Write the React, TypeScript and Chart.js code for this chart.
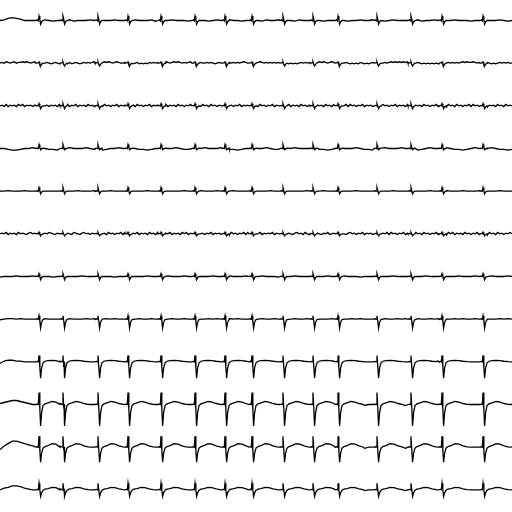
import React, { useEffect, useRef } from "react";
import { Chart, registerables } from "chart.js";

Chart.register(...registerables);

// 12 leads, top to bottom
const LEADS = ["I", "II", "III", "aVR", "aVL", "aVF", "V1", "V2", "V3", "V4", "V5", "V6"];

// R-peak times (ms) over a 10 s strip
const BEAT_TIMES_MS = [762, 1230, 1914, 2500, 3145, 3809, 4395, 4922, 5527, 6113, 6602, 7363, 8027, 8633, 9434];

// beat template sample offsets relative to the R peak (ms)
const TEMPLATE_DT_MS = [-59, -29, -14, 0, 16, 31, 51, 78, 117, 176, 254, 332, 410, 488];

// beat template amplitudes (mV) per lead
const TPL_I = [0, 0.03, -0.02, 0.22, 0.05, -0.18, -0.06, 0];
const TPL_II = [0, 0.02, 0.03, 0.06, -0.08, -0.14, -0.05, 0];
const TPL_III = [0, 0.02, 0, 0.11, -0.02, -0.14, -0.04, 0];
const TPL_AVR = [0, 0.02, 0, 0.2, 0.06, -0.06, -0.02, 0.02];
const TPL_AVL = [0, 0.02, 0, 0.18, 0.02, -0.13, -0.04, 0];
const TPL_AVF = [0, 0.02, 0, 0.08, -0.02, -0.1, -0.03, 0];
const TPL_V1 = [0, 0.02, 0, 0.14, 0, -0.16, -0.05, 0];
const TPL_V2 = [0, 0.02, 0, 0.17, -0.1, -0.45, -0.15, -0.02];
const TPL_V3 = [0, 0.02, 0, 0.32, -0.25, -0.82, -0.3, -0.05, 0.03, 0.06, 0.07, 0.06, 0.03, 0.01];
const TPL_V4 = [0, 0.02, 0, 0.6, -0.2, -1.07, -0.4, -0.05, 0.03, 0.08, 0.15, 0.12, 0.05, 0.01];
const TPL_V5 = [0, 0.02, 0, 0.55, -0.15, -0.75, -0.3, -0.05, 0.03, 0.08, 0.17, 0.15, 0.06, 0.01];
const TPL_V6 = [0, 0.02, 0, 0.33, 0, -0.33, -0.15, -0.02, 0.03, 0.06, 0.12, 0.11, 0.05, 0.01];

// baseline samples, digit d -> (d - 4) * scale mV
const BASE_STEP_MS = [80, 40, 40, 80, 80, 40, 80, 80, 80, 80, 80, 80];
const BASE_I = "4578764444 4543444534 4454344454 4345444534 4454443454 4345445443 4544354454 4435444543 4454434454 4544345444 4453445434 4544434454 445434";
const BASE_II = "4546545645 5656545654 4545434543 4343534543 4545456565 5656545654 4543434534 3435454545 5654565654 5456545454 4545434543 4354545456 5456565654 5454545434 4343434545 4545456565 4565454545 4343435434 3454545454 5656565656 5454543434 3434354545 4545456565 5654545454 3434545454 4";
const BASE_III = "4536354536 4635453546 3645354536 4536354635 4536453546 3645354635 4536453645 3546354536 4635453645 3546354536 4536453546 3645354635 4536453645 3546354536 4635453645 3546354536 4536453546 3645354635 4536453645 3546354536 4635453645 3546354536 4536453546 3645354635 4536453645 4";
const BASE_AVR = "4432234454 4433234544 4543323445 4454332345 4445433234 5444543323 4544454332 3454445433 2345444543 3234544454 3323454445 4332345444 543323";
const BASE_AVL = "4454445444 5444454445 4445444544 4454445444 5444454445 4445444544 4454445444 5444454445 4445444544 4454445444 5444454445 4445444544 445444";
const BASE_AVF = "4546354536 4543564536 4354654354 6345436543 5645354635 4536453546 3645354635 4536453645 3546354536 4635453645 3546354536 4536453546 3645354635 4546354536 4543564536 4354654354 6345436543 5645354635 4536453546 3645354635 4536453645 3546354536 4635453645 3546354536 4536453546 4";
const BASE_V1 = "3444544454 4443445444 5444544434 4454445444 4544454434 4454445444 5444544434 4454445444 5444544434 4454445444 5444544434 4454445444 544454";
const BASE_V2 = "3455454445 4544454544 4545445454 4454544545 4454454544 4545445454 4454544545 4454454544 4545445454 4454544545 4454454544 4545445454 445454";
const BASE_V3 = "2566554444 4443444454 4444434444 4544444344 4444454444 4344444544 4443444445 4444434444 4544444344 4444454444 4344444544 4443444445 444444";
const BASE_V4 = "5678876544 4444444443 4444444443 4444444443 4444444443 4444444443 4444444443 4444444443 4444444443 4444444443 4444444443 4444444443 444444";
const BASE_V5 = "2579987654 4444444443 4444444443 4444444443 4444444443 4444444443 4444444443 4444444443 4444444443 4444444443 4444444443 4444444443 444444";
const BASE_V6 = "4679986544 4444444443 4444444443 4444444443 4444444443 4444444443 4444444443 4444444443 4444444443 4444444443 4444444443 4444444443 444444";

const BASE_SCALE_MV = [0.035, 0.035, 0.035, 0.04, 0.03, 0.035, 0.03, 0.03, 0.04, 0.05, 0.06, 0.04];

const TEMPLATES = [TPL_I, TPL_II, TPL_III, TPL_AVR, TPL_AVL, TPL_AVF, TPL_V1, TPL_V2, TPL_V3, TPL_V4, TPL_V5, TPL_V6];
const BASELINES = [BASE_I, BASE_II, BASE_III, BASE_AVR, BASE_AVL, BASE_AVF, BASE_V1, BASE_V2, BASE_V3, BASE_V4, BASE_V5, BASE_V6];

const DURATION_MS = 10000;
const ROW_GAP_MV = 2.13333;
const TOP_OFFSET_MV = 1.025;
const Y_MIN = -25.6;

function buildLead(i: number) {
  const offset = -(TOP_OFFSET_MV + i * ROW_GAP_MV);
  const tpl = TEMPLATES[i];
  const dtFirst = TEMPLATE_DT_MS[0];
  const dtLast = TEMPLATE_DT_MS[tpl.length - 1];
  const base = BASELINES[i].replace(/ /g, "");
  const scale = BASE_SCALE_MV[i];
  const step = BASE_STEP_MS[i];
  const pts: { x: number; y: number }[] = [];
  for (let k = 0; k < base.length; k++) {
    const t = k * step;
    if (t > DURATION_MS) break;
    const inBeat = BEAT_TIMES_MS.some((b) => t >= b + dtFirst && t <= b + dtLast);
    if (inBeat) continue;
    pts.push({ x: t, y: offset + (Number(base[k]) - 4) * scale });
  }
  BEAT_TIMES_MS.forEach((b) => {
    tpl.forEach((v, j) => {
      const t = b + TEMPLATE_DT_MS[j];
      if (t >= 0 && t <= DURATION_MS) pts.push({ x: t, y: offset + v });
    });
  });
  pts.sort((a, b) => a.x - b.x);
  return pts;
}

export default function App() {
  const ref = useRef<HTMLCanvasElement | null>(null);
  useEffect(() => {
    if (!ref.current) return;
    const chart = new Chart(ref.current, {
      type: "line",
      data: {
        datasets: LEADS.map((name, i) => ({
          label: name,
          data: buildLead(i),
          borderColor: "#000000",
          borderWidth: 1.3,
          pointRadius: 0,
          tension: 0,
          fill: false,
        })),
      },
      options: {
        responsive: false,
        animation: false,
        layout: { padding: 0 },
        plugins: { legend: { display: false }, tooltip: { enabled: false } },
        scales: {
          x: { type: "linear", min: 0, max: DURATION_MS, display: false },
          y: { type: "linear", min: Y_MIN, max: 0, display: false },
        },
      },
    });
    return () => chart.destroy();
  }, []);
  return (
    <div style={{ position: "fixed", left: 0, top: 0, width: 512, height: 512, background: "#fff" }}>
      <canvas ref={ref} width={512} height={512} style={{ display: "block" }} />
    </div>
  );
}
